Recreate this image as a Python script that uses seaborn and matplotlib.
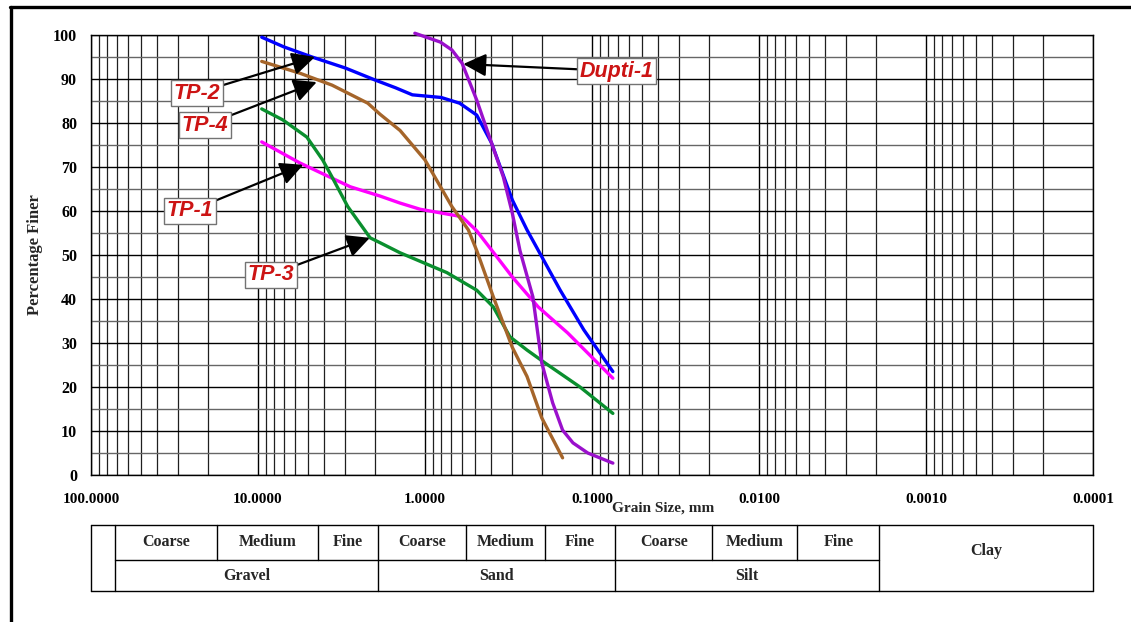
import matplotlib
matplotlib.use("Agg")
import numpy as np
import pandas as pd
import matplotlib.pyplot as plt
import seaborn as sns
from matplotlib.lines import Line2D
from matplotlib.transforms import blended_transform_factory
from matplotlib.ticker import FixedLocator, NullFormatter, FuncFormatter

# ---------------- data (grain size mm, percent finer) ----------------
tp1_size = [9.5, 5.6, 2.8, 1.86, 1.41, 1.07, 0.60, 0.49, 0.37, 0.30, 0.21, 0.14, 0.075]
tp1_pct = [75.7, 70.9, 65.5, 63.4, 61.8, 60.4, 58.7, 55.5, 49.5, 45.0, 38.2, 32.3, 22.0]

tp2_size = [9.5, 7.0, 4.75, 3.0, 2.0, 1.5, 1.19, 0.8, 0.62, 0.49, 0.40, 0.30, 0.245, 0.155, 0.112, 0.075]
tp2_pct = [99.5, 97.3, 95.0, 92.5, 89.8, 88.0, 86.4, 85.8, 84.5, 81.8, 75.5, 62.5, 55.7, 42.0, 33.0, 23.5]

tp3_size = [9.5, 7.1, 5.1, 4.1, 3.6, 2.9, 2.13, 1.86, 1.41, 0.74, 0.49, 0.39, 0.31, 0.245, 0.19, 0.118, 0.075]
tp3_pct = [83.2, 80.7, 76.8, 71.6, 67.7, 61.0, 53.9, 52.8, 50.5, 46.0, 42.0, 38.2, 31.4, 28.4, 25.4, 20.0, 14.0]

tp4_size = [9.5, 5.6, 3.6, 2.2, 1.86, 1.41, 1.0, 0.69, 0.55, 0.49, 0.39, 0.30, 0.245, 0.2, 0.15]
tp4_pct = [94.0, 91.3, 88.6, 84.5, 82.0, 78.3, 71.6, 61.0, 55.7, 51.0, 40.5, 29.0, 22.4, 13.0, 3.9]

dupti_size = [1.15, 0.81, 0.69, 0.60, 0.49, 0.40, 0.34, 0.30, 0.27, 0.226, 0.20, 0.172, 0.15, 0.13, 0.106, 0.075]
dupti_pct = [100.4, 98.4, 96.6, 93.6, 85.2, 75.5, 67.8, 59.5, 51.0, 40.5, 25.5, 16.4, 10.2, 7.3, 5.0, 2.7]

series_names = ["TP-1", "TP-2", "TP-3", "TP-4", "Dupti-1"]
series_colors = {"TP-1": "#FF00FF", "TP-2": "#0000FF", "TP-3": "#0A8F2E",
                 "TP-4": "#A5652A", "Dupti-1": "#9A10CC"}

x_tick_values = [100, 10, 1, 0.1, 0.01, 0.001, 0.0001]
y_tick_values = [0, 10, 20, 30, 40, 50, 60, 70, 80, 90, 100]

# classification table (mm boundaries)
table_bounds = [100, 72, 17.5, 4.4, 1.9, 0.57, 0.19, 0.073, 0.019, 0.0059, 0.0019, 0.0001]
sub_labels = ["Coarse", "Medium", "Fine", "Coarse", "Medium", "Fine", "Coarse", "Medium", "Fine"]
main_classes = ["Gravel", "Sand", "Silt"]
main_bounds = [72, 1.9, 0.073, 0.0019]
clay_label = "Clay"

# annotation (label, arrow tip size, tip pct, text size, text pct)
ann_labels = ["TP-2", "TP-4", "TP-1", "TP-3", "Dupti-1"]
ann_tip = [(4.56, 95.0), (4.45, 89.3), (5.36, 70.5), (2.14, 53.9), (0.59, 93.4)]
ann_text = [(23.2, 86.8), (20.7, 79.5), (25.5, 60.0), (8.4, 45.5), (0.071, 91.8)]

# ---------------- build long-form frame ----------------
sizes = [tp1_size, tp2_size, tp3_size, tp4_size, dupti_size]
pcts = [tp1_pct, tp2_pct, tp3_pct, tp4_pct, dupti_pct]
df = pd.concat([pd.DataFrame({"size": s, "pct": p, "sample": n})
                for n, s, p in zip(series_names, sizes, pcts)], ignore_index=True)

sns.set_style("white")
plt.rcParams["font.family"] = ["Liberation Serif", "DejaVu Serif"]

fig = plt.figure(figsize=(11.31, 6.22), dpi=100)
ax = fig.add_axes([91 / 1131, 1 - 475 / 622, (1093 - 91) / 1131, (475 - 35) / 622])

sns.lineplot(data=df, x="size", y="pct", hue="sample", palette=series_colors,
             estimator=None, sort=False, linewidth=2.4, legend=False, ax=ax, zorder=5)
for ln in ax.get_lines():
    ln.set_clip_on(False)
    ln.set_solid_capstyle("round")
    ln.set_solid_joinstyle("round")

ax.set_xscale("log")
ax.set_xlim(100, 0.0001)
ax.set_ylim(0, 100)

ax.xaxis.set_major_locator(FixedLocator(x_tick_values))
ax.xaxis.set_major_formatter(FuncFormatter(lambda v, p: f"{v:.4f}"))
minor = [m * 10.0 ** e for e in range(-4, 2) for m in range(2, 10)]
ax.xaxis.set_minor_locator(FixedLocator(minor))
ax.xaxis.set_minor_formatter(NullFormatter())
ax.yaxis.set_major_locator(FixedLocator(y_tick_values))
ax.yaxis.set_minor_locator(FixedLocator(list(range(5, 100, 10))))

ax.grid(which="major", axis="both", color="black", linewidth=1.0)
ax.grid(which="minor", axis="x", color="0.12", linewidth=0.9)
ax.grid(which="minor", axis="y", color="0.4", linewidth=1.0)
ax.set_axisbelow(True)

for sp in ax.spines.values():
    sp.set_color("black")
    sp.set_linewidth(1.0)

ax.tick_params(axis="x", which="major", direction="out", length=5, width=1,
               pad=8, labelsize=11, colors="black")
ax.tick_params(axis="x", which="minor", direction="out", length=4, width=0.8, colors="black")
ax.tick_params(axis="y", which="major", direction="out", length=6, width=1,
               pad=4, labelsize=11.5, colors="black")
ax.tick_params(axis="y", which="minor", length=0)
for lab in ax.get_xticklabels() + ax.get_yticklabels():
    lab.set_fontweight("bold")

ax.set_xlabel("")
ax.set_ylabel("")
fig.text(35 / 1131, 1 - 255 / 622, "Percentage Finer", rotation=90, ha="center",
         va="center", fontsize=12, fontweight="bold")
fig.text(612 / 1131, 1 - 508 / 622, "Grain Size, mm", ha="left", va="center",
         fontsize=11, fontweight="bold")

# ---------------- annotations ----------------
for lab, tip, txt in zip(ann_labels, ann_tip, ann_text):
    ax.annotate(lab, xy=tip, xytext=txt, xycoords="data", textcoords="data",
                ha="center", va="center", fontsize=15.5, fontstyle="italic",
                fontweight="bold", color="#CC1414",
                family=["Liberation Sans", "DejaVu Sans"],
                bbox=dict(boxstyle="square,pad=0.12", fc="white", ec="0.45", lw=1.0),
                arrowprops=dict(arrowstyle="-|>,head_length=0.9,head_width=0.45",
                                color="black", lw=1.6, shrinkA=0, shrinkB=0),
                zorder=10)

# ---------------- classification table ----------------
trans = blended_transform_factory(ax.transData, fig.transFigure)
y_top, y_mid, y_bot = 1 - 525 / 622, 1 - 560 / 622, 1 - 591 / 622


def tline(xs, ys):
    fig.add_artist(Line2D(xs, ys, transform=trans, color="black", lw=1.0))


tline([table_bounds[0], table_bounds[-1]], [y_top, y_top])
tline([table_bounds[0], table_bounds[-1]], [y_bot, y_bot])
tline([table_bounds[1], main_bounds[-1]], [y_mid, y_mid])
for b in [table_bounds[0], table_bounds[1]] + main_bounds[1:] + [table_bounds[-1]]:
    tline([b, b], [y_top, y_bot])
for b in table_bounds[2:-2]:
    if b not in main_bounds:
        tline([b, b], [y_top, y_mid])

gm = lambda a, b: np.sqrt(a * b)
for i, lab in enumerate(sub_labels):
    a, b = table_bounds[i + 1], table_bounds[i + 2]
    fig.text(gm(a, b), (y_top + y_mid) / 2, lab, transform=trans, ha="center",
             va="center", fontsize=11.5, fontweight="bold")
for i, lab in enumerate(main_classes):
    a, b = main_bounds[i], main_bounds[i + 1]
    fig.text(gm(a, b), (y_mid + y_bot) / 2, lab, transform=trans, ha="center",
             va="center", fontsize=11.5, fontweight="bold")
fig.text(gm(main_bounds[-1], table_bounds[-1]), (y_top + y_bot) / 2 + 0.012, clay_label,
         transform=trans, ha="center", va="center", fontsize=11.5, fontweight="bold")

# ---------------- outer frame ----------------
fig.add_artist(Line2D([10 / 1131, 1.0], [1 - 6.5 / 622, 1 - 6.5 / 622],
                      transform=fig.transFigure, color="black", lw=2.4))
fig.add_artist(Line2D([10.5 / 1131, 10.5 / 1131], [1 - 6.5 / 622, 0.0],
                      transform=fig.transFigure, color="black", lw=2.4))

fig.savefig("out.png", dpi=100, facecolor="white")
